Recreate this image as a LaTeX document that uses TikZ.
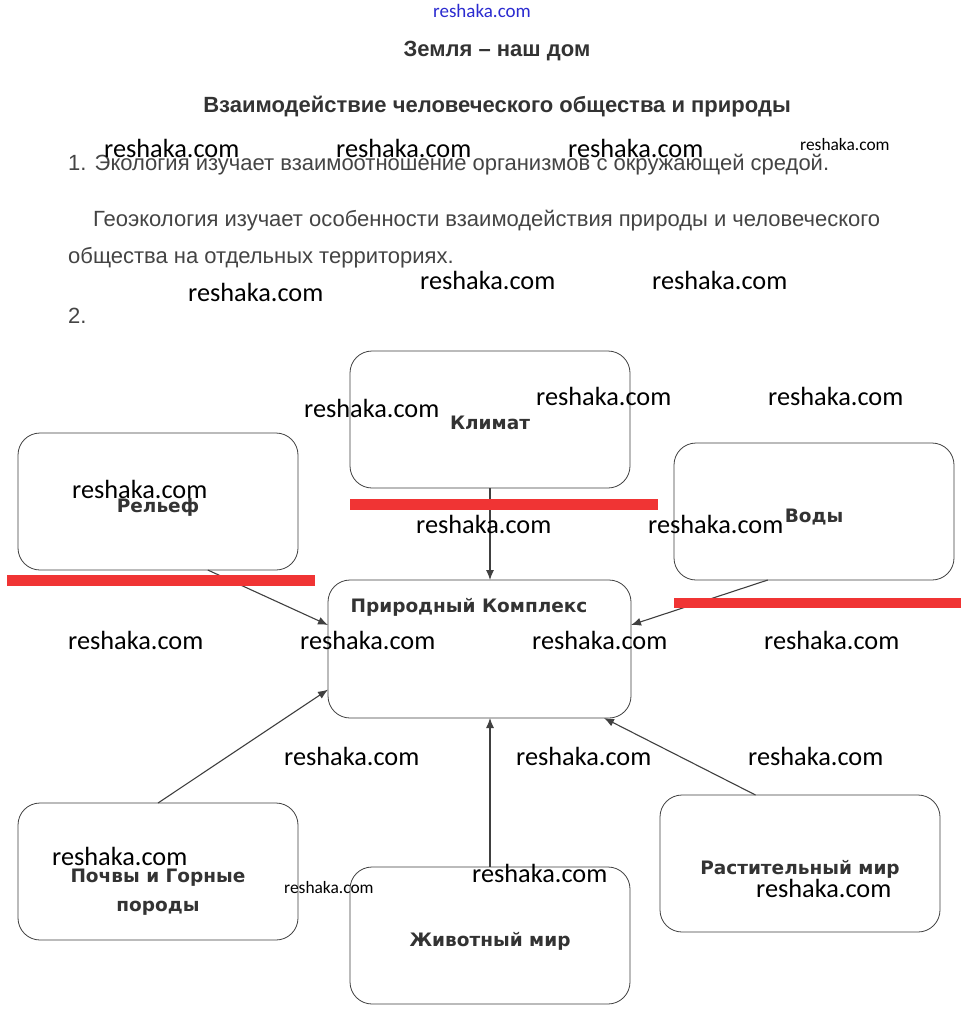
\documentclass[tikz,border=0pt]{standalone}
\usepackage{fontspec}
\setmainfont{Liberation Sans}
\newfontfamily\wmfont{Carlito}
\newfontfamily\boxfont[BoldFont={DejaVu Sans Bold}]{DejaVu Sans}
\usetikzlibrary{arrows.meta,calc}
\definecolor{txtgray}{HTML}{333333}
\definecolor{bodygray}{HTML}{444444}
\definecolor{linegray}{HTML}{404040}
\definecolor{redbar}{HTML}{F03434}
\definecolor{wmblue}{HTML}{2B2BD0}
\tikzset{
  box/.style={draw=linegray, line width=0.8pt, rounded corners=22pt, inner sep=0pt, outer sep=0pt, minimum width=280pt, minimum height=137pt},
  boxlabel/.style={font=\boxfont\bfseries\fontsize{18.5}{29}\selectfont, text=txtgray, inner sep=0pt, align=center},
  wm/.style={font=\wmfont\fontsize{26.3}{28}\selectfont, anchor=west, inner sep=0pt, text=black},
  wmsmall/.style={font=\wmfont\fontsize{17.4}{19}\selectfont, anchor=west, inner sep=0pt, text=black},
  heading/.style={font=\bfseries\fontsize{22}{24}\selectfont, text=txtgray, inner sep=0pt},
  body/.style={font=\fontsize{22}{24}\selectfont, text=bodygray, anchor=west, inner sep=0pt},
  conn/.style={draw=linegray, line width=1.1pt, -{Latex[length=10pt,width=8pt]}},
  bar/.style={fill=redbar, draw=none}
}
\begin{document}
\begin{tikzpicture}[x=1pt,y=-1pt]
\path[use as bounding box, fill=white] (0,0) rectangle (961,1021);

% header texts
\node[font=\wmfont\fontsize{19}{20}\selectfont, text=wmblue, inner sep=0pt] (top) at (482,11) {reshaka.com};
\node[heading] (title) at (497,51) {Земля – наш дом};
\node[heading] (subtitle) at (497,107) {Взаимодействие человеческого общества и природы};
\node[body] (l1) at (68,165) {1. Экология изучает взаимоотношение организмов с окружающей средой.};
\node[body] (l2) at (93,221) {Геоэкология изучает особенности взаимодействия природы и человеческого};
\node[body] (l3) at (68,258) {общества на отдельных территориях.};
\node[body] (l4) at (68,316) {2.};

% boxes
\node[box] (klimat) at (490,419.5) {};
\node[box] (relief) at (158,501.5) {};
\node[box] (vody) at (814,511.5) {};
\node[box, minimum width=303pt, minimum height=138pt] (kompleks) at (479.5,649) {};
\node[box] (pochvy) at (158,871.5) {};
\node[box] (zhivot) at (490,935.5) {};
\node[box] (rastit) at (800,863.5) {};

% box labels
\node[boxlabel] (tklimat) at (490,423) {Климат};
\node[boxlabel] (trelief) at (158,507) {Рельеф};
\node[boxlabel] (tvody) at (814,517) {Воды};
\node[boxlabel] (tkompleks) at (469,607) {Природный Комплекс};
\node[boxlabel] (tpochvy) at (158,892) {Почвы и Горные\\породы};
\node[boxlabel] (tzhivot) at (490,941) {Животный мир};
\node[boxlabel] (trastit) at (800,869) {Растительный мир};

% connectors
\draw[conn] (klimat.south) -- (klimat.south |- kompleks.north);
\draw[conn] (relief.-54.4) -- (kompleks.171.4);
\draw[conn] (vody.236) -- (kompleks.9);
\draw[conn] (pochvy.north) -- (kompleks.195.8);
\draw[conn] (zhivot.north) -- (zhivot.north |- kompleks.south);
\draw[conn] (rastit.123.3) -- (kompleks.-29.8);

% red bars
\fill[bar] (350,499) rectangle (658,510);
\fill[bar] (7,575) rectangle (315,586);
\fill[bar] (674,598) rectangle (961,608);

% watermarks
\node[wm] (w1) at (104,148) {reshaka.com};
\node[wm] (w2) at (336,148) {reshaka.com};
\node[wm] (w3) at (568,148) {reshaka.com};
\node[wmsmall] (w4) at (800,145) {reshaka.com};
\node[wm] (w5) at (188,292) {reshaka.com};
\node[wm] (w6) at (420,280) {reshaka.com};
\node[wm] (w7) at (652,280) {reshaka.com};
\node[wm] (w8) at (304,408) {reshaka.com};
\node[wm] (w9) at (536,396) {reshaka.com};
\node[wm] (w10) at (768,396) {reshaka.com};
\node[wm] (w11) at (72,489) {reshaka.com};
\node[wm] (w12) at (416,524) {reshaka.com};
\node[wm] (w13) at (648,524) {reshaka.com};
\node[wm] (w14) at (68,640) {reshaka.com};
\node[wm] (w15) at (300,640) {reshaka.com};
\node[wm] (w16) at (532,640) {reshaka.com};
\node[wm] (w17) at (764,640) {reshaka.com};
\node[wm] (w18) at (284,756) {reshaka.com};
\node[wm] (w19) at (516,756) {reshaka.com};
\node[wm] (w20) at (748,756) {reshaka.com};
\node[wm] (w21) at (52,856) {reshaka.com};
\node[wmsmall] (w22) at (284,888) {reshaka.com};
\node[wm] (w23) at (472,873) {reshaka.com};
\node[wm] (w24) at (756,888) {reshaka.com};
\end{tikzpicture}
\end{document}
